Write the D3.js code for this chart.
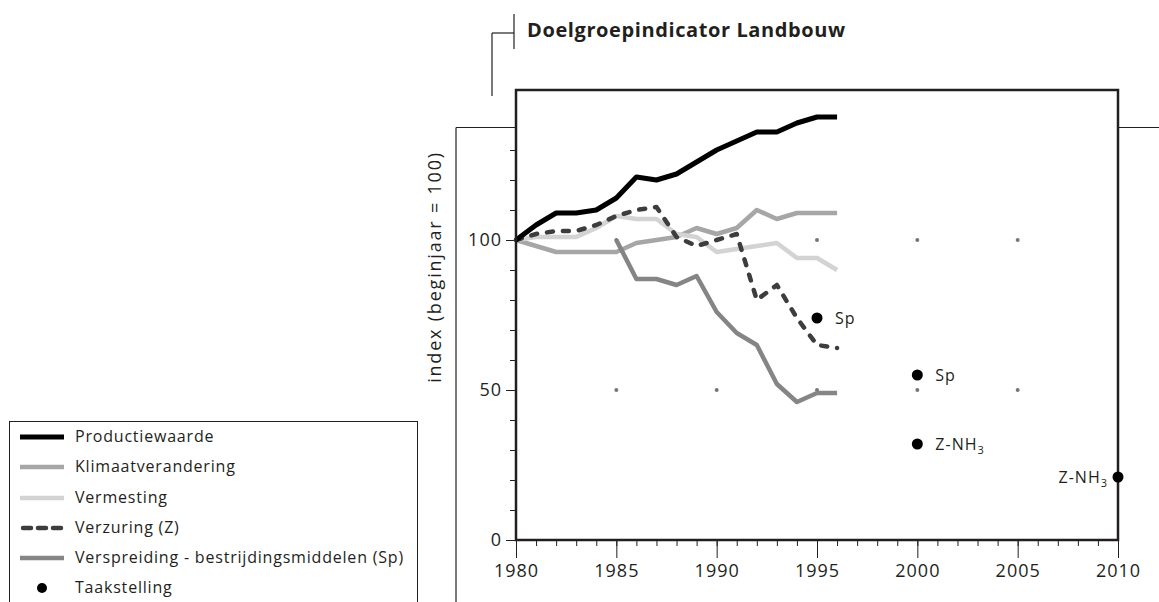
<!DOCTYPE html>
<html>
<head>
<meta charset="utf-8">
<script src="https://cdn.jsdelivr.net/npm/d3@7"></script>
<style>
  body { margin: 0; background: #fff; }
  text { font-family: "Open Sans", "Noto Sans", sans-serif; fill: #231f20; }
</style>
</head>
<body>
<div id="chart"></div>
<script>

var years = [1980, 1981, 1982, 1983, 1984, 1985, 1986, 1987, 1988, 1989, 1990, 1991, 1992, 1993, 1994, 1995, 1996];

var productiewaarde    = [100, 105, 109, 109, 110, 114, 121, 120, 122, 126, 130, 133, 136, 136, 139, 141, 141];
var klimaatverandering = [100, 98, 96, 96, 96, 96, 99, 100, 101, 104, 102, 104, 110, 107, 109, 109, 109];
var vermesting         = [100, 101, 101, 101, 104, 108, 107, 107, 102, 101, 96, 97, 98, 99, 94, 94, 90];
var verzuring          = [100, 102, 103, 103, 105, 108, 110, 111, 101, 98, 100, 102, 80, 85, 74, 65, 64];
var verspreiding       = [null, null, null, null, null, 100, 87, 87, 85, 88, 76, 69, 65, 52, 46, 49, 49];

var taakYears  = [1995, 2000, 2000, 2010];
var taakValues = [74, 55, 32, 21];
var taakLabels = ["Sp", "Sp", "Z-NH3", "Z-NH3"];

var gridYears  = [1985, 1990, 1995, 2000, 2005];
var gridLevels = [50, 100];

var xMajorTicks = [1980, 1985, 1990, 1995, 2000, 2005, 2010];
var yMajorTicks = [0, 50, 100];

var seriesNames = ["Productiewaarde", "Klimaatverandering", "Vermesting", "Verzuring (Z)", "Verspreiding - bestrijdingsmiddelen (Sp)"];
var seriesData  = [productiewaarde, klimaatverandering, vermesting, verzuring, verspreiding];

var colors = ["#000000", "#a6a6a6", "#d3d3d3", "#3d3d3d", "#858585"],
    widths = [5, 4.5, 4.5, 4.5, 4.5],
    dashes = [null, null, null, "6,10", null],
    drawOrder = [1, 2, 4, 3, 0],
    ink = "#231f20";

var width = 1159, height = 602;

var svg = d3.select("#chart").append("svg")
    .attr("width", width)
    .attr("height", height);

var x = d3.scaleLinear().domain([1980, 2010]).range([516, 1118]),
    y = d3.scaleLinear().domain([0, 150]).range([540, 90]);

// decorative bracket lines round the title and plot
var deco = [
    [[514, 14], [514, 49]],
    [[492, 33], [514, 33]],
    [[492, 33], [492, 96]],
    [[456, 127.5], [516, 127.5]],
    [[456, 127.5], [456, 602]],
    [[1118, 127.5], [1159, 127.5]]
];
svg.selectAll(".deco")
    .data(deco)
    .enter()
    .append("path")
    .attr("d", function (d) { return d3.line()(d); })
    .attr("stroke", ink)
    .attr("stroke-width", 1.2)
    .attr("fill", "none");

svg.append("text")
    .text("Doelgroepindicator Landbouw")
    .attr("x", 527)
    .attr("y", 37)
    .style("font-size", "20px")
    .style("letter-spacing", "0.6px")
    .style("font-weight", "bold");

// grid dots
var gridPts = [];
gridLevels.forEach(function (lv) { gridYears.forEach(function (yr) { gridPts.push([yr, lv]); }); });
svg.selectAll(".gdot")
    .data(gridPts)
    .enter()
    .append("circle")
    .attr("cx", function (d) { return x(d[0]); })
    .attr("cy", function (d) { return y(d[1]); })
    .attr("r", 2)
    .attr("fill", "#777");

// axes: minor ticks then labelled major ticks
svg.append("g")
    .attr("transform", "translate(" + x(1980) + ",0)")
    .call(d3.axisLeft(y).tickValues(d3.range(0, 140, 10)).tickSize(6).tickFormat(""))
    .call(function (g) { g.select(".domain").remove(); g.selectAll("line").attr("stroke", ink); });

svg.append("g")
    .attr("transform", "translate(" + x(1980) + ",0)")
    .call(d3.axisLeft(y).tickValues(yMajorTicks).tickSize(10).tickPadding(4))
    .call(function (g) {
        g.select(".domain").remove();
        g.selectAll("line").attr("stroke", ink);
        g.selectAll("text").style("font-size", "18px").style("letter-spacing", "1px").attr("fill", ink);
    });

svg.append("g")
    .attr("transform", "translate(0," + y(0) + ")")
    .call(d3.axisBottom(x).tickValues(d3.range(1980, 2011)).tickSize(6).tickFormat(""))
    .call(function (g) { g.select(".domain").remove(); g.selectAll("line").attr("stroke", ink); });

svg.append("g")
    .attr("transform", "translate(0," + y(0) + ")")
    .call(d3.axisBottom(x).tickValues(xMajorTicks).tickSize(18).tickPadding(6).tickFormat(d3.format("d")))
    .call(function (g) {
        g.select(".domain").remove();
        g.selectAll("line").attr("stroke", ink);
        g.selectAll("text").style("font-size", "18px").style("letter-spacing", "1px").attr("fill", ink);
    });

svg.append("text")
    .text("index (beginjaar = 100)")
    .attr("transform", "translate(441," + y(91) + ") rotate(-90)")
    .style("text-anchor", "middle")
    .style("letter-spacing", "1.8px")
    .style("font-size", "18px");

// lines
var line = d3.line()
    .defined(function (d) { return d[1] !== null; })
    .x(function (d) { return x(d[0]); })
    .y(function (d) { return y(d[1]); });

drawOrder.forEach(function (i) {
    svg.append("path")
        .datum(years.map(function (yr, j) { return [yr, seriesData[i][j]]; }))
        .attr("d", line)
        .attr("fill", "none")
        .attr("stroke", colors[i])
        .attr("stroke-width", widths[i])
        .attr("stroke-linejoin", "round")
        .attr("stroke-linecap", dashes[i] ? "round" : "butt")
        .attr("stroke-dasharray", dashes[i]);
});

// plot frame
svg.append("rect")
    .attr("x", x(1980))
    .attr("y", y(150))
    .attr("width", x(2010) - x(1980))
    .attr("height", y(0) - y(150))
    .attr("fill", "none")
    .attr("stroke", ink)
    .attr("stroke-width", 2.5);

// taakstelling
var taak = taakYears.map(function (yr, i) { return {year: yr, value: taakValues[i], label: taakLabels[i]}; });

svg.selectAll(".taak")
    .data(taak)
    .enter()
    .append("circle")
    .attr("cx", function (d) { return x(d.year); })
    .attr("cy", function (d) { return y(d.value); })
    .attr("r", 5.5)
    .attr("fill", "#000");

var tl = svg.selectAll(".taakLabel")
    .data(taak)
    .enter()
    .append("text")
    .attr("x", function (d) { return d.year === 2010 ? x(d.year) - 10 : x(d.year) + 18; })
    .attr("y", function (d) { return y(d.value) + 6; })
    .style("text-anchor", function (d) { return d.year === 2010 ? "end" : "start"; })
    .style("letter-spacing", "1px")
    .style("font-size", "16px");

tl.append("tspan").text(function (d) { return d.label.replace(/3$/, ""); });
tl.filter(function (d) { return /3$/.test(d.label); })
    .append("tspan")
    .text("3")
    .attr("dy", 4)
    .style("font-size", "11px");

// legend
svg.append("rect")
    .attr("x", 9.5)
    .attr("y", 421.5)
    .attr("width", 408)
    .attr("height", 200)
    .attr("fill", "none")
    .attr("stroke", ink)
    .attr("stroke-width", 1);

var legendRows = [437, 467, 498, 528, 558];
var legendOrder = [0, 1, 2, 3, 4];

var lg = svg.selectAll(".legItem")
    .data(legendOrder)
    .enter()
    .append("g")
    .attr("transform", function (d, i) { return "translate(0," + legendRows[i] + ")"; });

lg.append("line")
    .attr("x1", function (d) { return dashes[d] ? 23 : 20; })
    .attr("x2", 64)
    .attr("y1", 0)
    .attr("y2", 0)
    .attr("stroke", function (d) { return colors[d]; })
    .attr("stroke-width", function (d) { return widths[d]; })
    .attr("stroke-linecap", function (d) { return dashes[d] ? "round" : "butt"; })
    .attr("stroke-dasharray", function (d) { return dashes[d] ? "8,7" : null; });

lg.append("text")
    .text(function (d) { return seriesNames[d]; })
    .attr("x", 75)
    .attr("y", 5)
    .style("letter-spacing", "0.8px")
    .style("font-size", "16px");

svg.append("circle")
    .attr("cx", 42)
    .attr("cy", 588)
    .attr("r", 5)
    .attr("fill", "#000");

svg.append("text")
    .text("Taakstelling")
    .attr("x", 75)
    .attr("y", 593)
    .style("letter-spacing", "0.8px")
    .style("font-size", "16px");

</script>
</body>
</html>
